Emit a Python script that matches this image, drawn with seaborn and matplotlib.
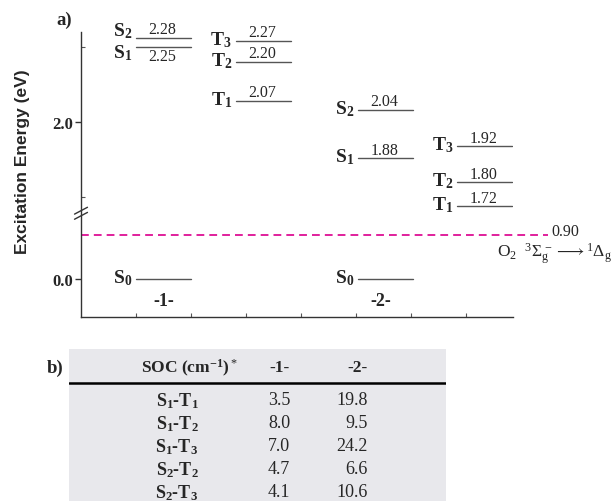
import numpy as np
import pandas as pd
import matplotlib
matplotlib.use("Agg")
import matplotlib.pyplot as plt
import seaborn as sns

# energy levels (eV)
mol1_s_names = ["S0", "S1", "S2"]
mol1_s_energy = [0.00, 2.25, 2.28]
mol1_t_names = ["T1", "T2", "T3"]
mol1_t_energy = [2.07, 2.20, 2.27]
mol2_s_names = ["S0", "S1", "S2"]
mol2_s_energy = [0.00, 1.88, 2.04]
mol2_t_names = ["T1", "T2", "T3"]
mol2_t_energy = [1.72, 1.80, 1.92]
o2_energy = 0.90

# SOC table
soc_pairs = ["S1-T1", "S1-T2", "S1-T3", "S2-T2", "S2-T3"]
soc_mol1 = [3.5, 8.0, 7.0, 4.7, 4.1]
soc_mol2 = [19.8, 9.5, 24.2, 6.6, 10.6]

# column spans on the x axis (layout)
columns = {
    ("-1-", "S"): (1.0, 2.0),
    ("-1-", "T"): (2.82, 3.82),
    ("-2-", "S"): (5.04, 6.04),
    ("-2-", "T"): (6.84, 7.84),
}
# crowded levels: nudge the state label (points) / put the value below the line
label_nudge = {"-1-S2": 4.5, "-1-S1": -5.5}
value_below = {"-1-S1"}

sns.set_style("ticks")
plt.rcParams["font.family"] = ["Liberation Serif", "DejaVu Serif"]
plt.rcParams["mathtext.fontset"] = "custom"
plt.rcParams["mathtext.rm"] = "Liberation Serif"
plt.rcParams["mathtext.it"] = "Liberation Serif:italic"
plt.rcParams["mathtext.bf"] = "Liberation Serif:bold"

rows = []
for mol, kind, names, energies in [
    ("-1-", "S", mol1_s_names, mol1_s_energy),
    ("-1-", "T", mol1_t_names, mol1_t_energy),
    ("-2-", "S", mol2_s_names, mol2_s_energy),
    ("-2-", "T", mol2_t_names, mol2_t_energy),
]:
    x0, x1 = columns[(mol, kind)]
    for n, e in zip(names, energies):
        for x in (x0, x1):
            rows.append({"mol": mol, "state": n, "level": mol + n, "x": x, "E": e})
levels = pd.DataFrame(rows)

# broken axis: compressed lower part, cut between 1.33 and 1.695 eV
r_low = 49 / 302
e_lo, e_hi = 1.33, 1.695
knots_e = np.array([-5.0, e_lo, e_hi, 5.0])
knots_d = np.array([-5.0 * r_low, e_lo * r_low, e_lo * r_low + 1e-3,
                    e_lo * r_low + 1e-3 + (5.0 - e_hi)])


def fwd(e):
    return np.interp(e, knots_e, knots_d)


def inv(d):
    return np.interp(d, knots_d, knots_e)


fig = plt.figure(figsize=(6.13, 5.02), dpi=100)
ax = fig.add_axes([81 / 613, 1 - 318 / 502, 432 / 613, 285 / 502])
ax.set_yscale("function", functions=(fwd, inv))

sns.lineplot(data=levels, x="x", y="E", units="level", estimator=None,
             color="#555555", linewidth=1.0, ax=ax, legend=False)

ax.set_xlim(0, 7.85)
ax.set_ylim(-0.78, 2.30)

for lvl, g in levels.groupby("level", sort=False):
    x0, x1 = g["x"].min(), g["x"].max()
    e = g["E"].iloc[0]
    name = g["state"].iloc[0]
    lab = r"$\mathbf{%s_{%s}}$" % (name[0], name[1])
    ax.annotate(lab, (x0, e), xytext=(-3, 1.5 + label_nudge.get(lvl, 0)),
                textcoords="offset points", ha="right", va="center", fontsize=14)
    if name != "S0":
        if lvl in value_below:
            ax.annotate(f"{e:.2f}", ((x0 + x1) / 2, e), xytext=(-1, -1),
                        textcoords="offset points", ha="center", va="top",
                        fontsize=11.5)
        else:
            ax.annotate(f"{e:.2f}", ((x0 + x1) / 2, e), xytext=(-1, 0.5),
                        textcoords="offset points", ha="center", va="bottom",
                        fontsize=11.5)

# molecule labels
ax.text(1.5, -0.44, "-1-", ha="center", va="center", fontsize=13, fontweight="bold")
ax.text(5.45, -0.44, "-2-", ha="center", va="center", fontsize=13, fontweight="bold")

# O2 singlet line
ax.plot([0, 8.49], [o2_energy, o2_energy], ls=(0, (4, 2.6)), color="#e0209c",
        lw=1.4, clip_on=False)
ax.annotate(f"{o2_energy:.2f}", (8.55, o2_energy), xytext=(0, -2.5),
            textcoords="offset points", ha="left", va="bottom", fontsize=11.5,
            annotation_clip=False)
fig.text(0.998, 1 - 254 / 502,
         r"O$_2$  $^3\Sigma_\mathrm{g}^{\,-}\longrightarrow{}^1\Delta_\mathrm{g}$",
         ha="right", va="center", fontsize=12.5)

# axes styling
sns.despine(ax=ax)
for s in ("left", "bottom"):
    ax.spines[s].set_color("#333333")
    ax.spines[s].set_linewidth(1.0)
ax.set_xticks(np.arange(1, 8))
ax.tick_params(axis="x", direction="in", length=3, labelbottom=False,
               color="#555555", width=0.8)
ax.set_yticks([0.0, 2.0])
ax.set_yticklabels(["0.0", "2.0"], fontweight="bold", fontsize=12)
ax.set_yticks([1.75, 2.25], minor=True)
ax.tick_params(axis="y", which="major", direction="out", length=4, width=1,
               color="#333333", pad=2)
ax.tick_params(axis="y", which="minor", direction="in", length=3, width=0.8,
               color="#555555")
ax.set_xlabel("")
ax.set_ylabel("Excitation Energy (eV)", fontfamily="Liberation Sans",
              fontweight="bold", fontsize=12.5)
ax.yaxis.set_label_coords(-0.118, 0.547)

# break mark on the y spine
yb = (fwd(e_lo) - fwd(-0.78)) / (fwd(2.30) - fwd(-0.78))
for dy in (-0.006, 0.012):
    ax.plot([-0.015, 0.015], [yb - 0.012 + dy, yb + 0.012 + dy],
            transform=ax.transAxes, color="#333333", lw=1.0, clip_on=False)

fig.text(64 / 613, 1 - 20 / 502, "a)", ha="center", va="center", fontsize=13.5,
         fontweight="bold")

# table b)
tx = fig.add_axes([69 / 613, 0, 377 / 613, 152 / 502])
tx.set_facecolor("#e8e8ec")
tx.set_xlim(0, 377)
tx.set_ylim(152, 0)
tx.set_xticks([])
tx.set_yticks([])
for s in tx.spines.values():
    s.set_visible(False)
tx.axhline(34, color="black", lw=1.8)
tx.text(120, 18, r"SOC (cm$^{\mathbf{-1}}$)$^*$", ha="center", va="center",
        fontsize=12.5, fontweight="bold")
tx.text(211, 18, "-1-", ha="center", va="center", fontsize=12.5, fontweight="bold")
tx.text(289, 18, "-2-", ha="center", va="center", fontsize=12.5, fontweight="bold")
for i, (p, a, b) in enumerate(zip(soc_pairs, soc_mol1, soc_mol2)):
    y = 51 + i * 23
    s, t = p.split("-")
    lab = r"$\mathbf{%s_{%s}}$-$\mathbf{%s_{%s}}$" % (s[0], s[1], t[0], t[1])
    tx.text(108, y, lab, ha="center", va="center", fontsize=13, fontweight="bold")
    tx.text(210, y, f"{a:.1f}", ha="center", va="center", fontsize=13)
    tx.text(299, y, f"{b:.1f}", ha="right", va="center", fontsize=13)

fig.text(55 / 613, 1 - 368 / 502, "b)", ha="center", va="center", fontsize=13.5,
         fontweight="bold")

fig.savefig("out.png", dpi=100)
